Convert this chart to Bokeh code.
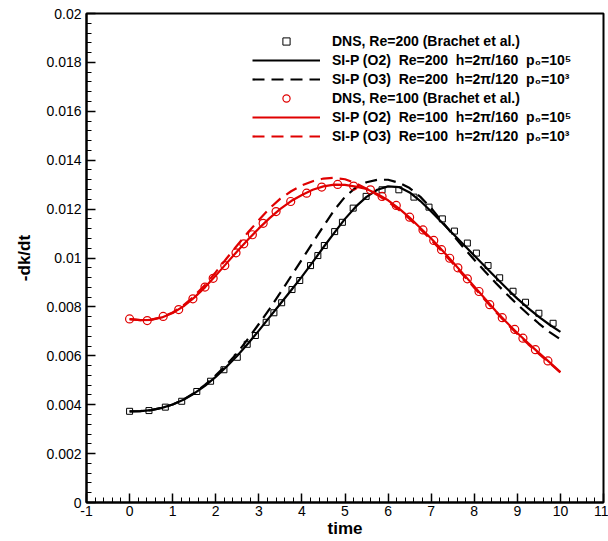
from bokeh.plotting import figure
from bokeh.models import FixedTicker, CustomJSTickFormatter, Legend, LegendItem, Range1d
from bokeh.embed import file_html
from bokeh.resources import INLINE

# ---- data ----
time_grid = [0.0, 0.25, 0.5, 0.75, 1.0, 1.25, 1.5, 1.75, 2.0, 2.25, 2.5, 2.75, 3.0, 3.25,
             3.5, 3.75, 4.0, 4.25, 4.5, 4.75, 5.0, 5.25, 5.5, 5.75, 6.0, 6.25, 6.5, 6.75,
             7.0, 7.25, 7.5, 7.75, 8.0, 8.25, 8.5, 8.75, 9.0, 9.25, 9.5, 9.75, 10.0]

sip_o2_re200 = [0.00373, 0.00374, 0.00378, 0.00387, 0.00401, 0.00420, 0.00446, 0.00477, 0.00514,
                0.00555, 0.00600, 0.00650, 0.00703, 0.00758, 0.00813, 0.00868, 0.00924, 0.00983,
                0.01044, 0.01103, 0.01160, 0.01210, 0.01250, 0.01279, 0.01293, 0.01290, 0.01268,
                0.01233, 0.01190, 0.01145, 0.01100, 0.01055, 0.01010, 0.00965, 0.00920, 0.00876,
                0.00834, 0.00795, 0.00759, 0.00727, 0.00698]
sip_o3_re200 = [0.00373, 0.00374, 0.00378, 0.00387, 0.00401, 0.00421, 0.00448, 0.00481, 0.00520,
                0.00563, 0.00612, 0.00670, 0.00730, 0.00792, 0.00858, 0.00926, 0.00994, 0.01062,
                0.01130, 0.01196, 0.01250, 0.01288, 0.01310, 0.01320, 0.01320, 0.01308, 0.01286,
                0.01250, 0.01204, 0.01150, 0.01096, 0.01043, 0.00993, 0.00945, 0.00898, 0.00853,
                0.00810, 0.00770, 0.00732, 0.00697, 0.00667]
sip_o2_re100 = [0.00750, 0.00746, 0.00747, 0.00757, 0.00775, 0.00802, 0.00838, 0.00880, 0.00928,
                0.00978, 0.01028, 0.01076, 0.01121, 0.01163, 0.01201, 0.01233, 0.01258, 0.01279,
                0.01293, 0.01300, 0.01299, 0.01292, 0.01282, 0.01262, 0.01236, 0.01203, 0.01165,
                0.01123, 0.01080, 0.01033, 0.00984, 0.00934, 0.00884, 0.00833, 0.00783, 0.00737,
                0.00693, 0.00652, 0.00612, 0.00573, 0.00533]
sip_o3_re100 = [0.00750, 0.00746, 0.00748, 0.00758, 0.00777, 0.00806, 0.00844, 0.00890, 0.00942,
                0.00998, 0.01052, 0.01105, 0.01155, 0.01203, 0.01243, 0.01273, 0.01297, 0.01314,
                0.01325, 0.01328, 0.01322, 0.01306, 0.01283, 0.01258, 0.01230, 0.01197, 0.01160,
                0.01118, 0.01074, 0.01027, 0.00978, 0.00928, 0.00878, 0.00828, 0.00779, 0.00733,
                0.00689, 0.00648, 0.00608, 0.00570, 0.00532]

dns200_t = [0.0, 0.45, 0.83, 1.21, 1.56, 1.88, 2.19, 2.50, 2.73, 2.92, 3.17, 3.35, 3.53, 3.77,
            3.95, 4.20, 4.37, 4.52, 4.76, 4.94, 5.19, 5.49, 5.86, 6.25, 6.60, 6.95, 7.26, 7.54,
            7.84, 8.05, 8.32, 8.59, 8.90, 9.19, 9.50, 9.83]
dns200_v = [0.00373, 0.00376, 0.00390, 0.00414, 0.00454, 0.00496, 0.00543, 0.00594, 0.00647,
            0.00683, 0.00737, 0.00776, 0.00817, 0.00871, 0.00908, 0.00969, 0.01010, 0.01051,
            0.01108, 0.01146, 0.01204, 0.01252, 0.01279, 0.01279, 0.01249, 0.01208, 0.01160,
            0.01110, 0.01061, 0.01020, 0.00969, 0.00919, 0.00864, 0.00819, 0.00774, 0.00733]

dns100_t = [0.0, 0.41, 0.78, 1.14, 1.47, 1.75, 1.94, 2.21, 2.47, 2.65, 2.85, 3.10, 3.40, 3.74,
            4.11, 4.46, 4.83, 5.20, 5.59, 5.86, 6.19, 6.50, 6.81, 7.06, 7.24, 7.43, 7.62, 7.84,
            8.11, 8.36, 8.65, 8.94, 9.13, 9.42, 9.71]
dns100_v = [0.00751, 0.00744, 0.00761, 0.00789, 0.00833, 0.00881, 0.00917, 0.00969, 0.01021,
            0.01058, 0.01095, 0.01142, 0.01190, 0.01231, 0.01265, 0.01290, 0.01301, 0.01294,
            0.01279, 0.01252, 0.01215, 0.01167, 0.01115, 0.01072, 0.01034, 0.00999, 0.00960,
            0.00915, 0.00863, 0.00809, 0.00756, 0.00708, 0.00672, 0.00625, 0.00579]

x_ticks = [-1, 0, 1, 2, 3, 4, 5, 6, 7, 8, 9, 10, 11]
y_ticks = [0.0, 0.002, 0.004, 0.006, 0.008, 0.010, 0.012, 0.014, 0.016, 0.018, 0.020]

labels = [
    "DNS, Re=200 (Brachet et al.)",
    "SI-P (O2)  Re=200  h=2\u03c0/160  p\u2080=10\u2075",
    "SI-P (O3)  Re=200  h=2\u03c0/120  p\u2080=10\u00b3",
    "DNS, Re=100 (Brachet et al.)",
    "SI-P (O2)  Re=100  h=2\u03c0/160  p\u2080=10\u2075",
    "SI-P (O3)  Re=100  h=2\u03c0/120  p\u2080=10\u00b3",
]

RED = "#e00000"
FONT = "Liberation Sans"

p = figure(width=608, height=541, output_backend="svg", toolbar_location=None,
           x_range=Range1d(-1, 11), y_range=Range1d(0, 0.02),
           min_border_left=86, min_border_right=5, min_border_top=13, min_border_bottom=39)
p.grid.visible = False
p.outline_line_color = "black"
p.outline_line_width = 2

r_o2_200 = p.line(time_grid, sip_o2_re200, line_color="black", line_width=2.2)
r_o3_200 = p.line(time_grid, sip_o3_re200, line_color="black", line_width=2.2, line_dash="12 7")
r_o2_100 = p.line(time_grid, sip_o2_re100, line_color=RED, line_width=2.2)
r_o3_100 = p.line(time_grid, sip_o3_re100, line_color=RED, line_width=2.2, line_dash="12 7")
r_dns200 = p.scatter(dns200_t, dns200_v, marker="square", size=6, fill_alpha=0,
                     line_color="black", line_width=1)
r_dns100 = p.scatter(dns100_t, dns100_v, marker="circle", size=8, fill_alpha=0,
                     line_color=RED, line_width=1.2)

# axes
for ax in (p.xaxis[0], p.yaxis[0]):
    ax.axis_line_width = 2
    ax.major_tick_in = 9
    ax.major_tick_out = 0
    ax.minor_tick_in = 5
    ax.minor_tick_out = 0
    ax.major_tick_line_width = 1.5
    ax.minor_tick_line_width = 1
    ax.major_label_text_font = FONT
    ax.major_label_text_font_size = "14px"
    ax.major_label_text_color = "black"
    ax.axis_label_text_font = FONT
    ax.axis_label_text_font_style = "bold"
    ax.axis_label_text_font_size = "17px"
    ax.axis_label_text_color = "black"

p.xaxis[0].ticker = FixedTicker(ticks=x_ticks,
                                minor_ticks=[i / 5 for i in range(-5, 56)])
p.yaxis[0].ticker = FixedTicker(ticks=y_ticks,
                                minor_ticks=[i * 0.0004 for i in range(0, 51)])
p.xaxis[0].formatter = CustomJSTickFormatter(code="return tick.toString();")
p.yaxis[0].formatter = CustomJSTickFormatter(code="return parseFloat(tick.toFixed(4)).toString();")
p.xaxis[0].axis_label = "time"
p.yaxis[0].axis_label = "-dk/dt"
p.xaxis[0].major_label_standoff = 3
p.xaxis[0].axis_label_standoff = 0
p.yaxis[0].major_label_standoff = 5
p.yaxis[0].axis_label_standoff = 9

items = [
    LegendItem(label=labels[0], renderers=[r_dns200]),
    LegendItem(label=labels[1], renderers=[r_o2_200]),
    LegendItem(label=labels[2], renderers=[r_o3_200]),
    LegendItem(label=labels[3], renderers=[r_dns100]),
    LegendItem(label=labels[4], renderers=[r_o2_100]),
    LegendItem(label=labels[5], renderers=[r_o3_100]),
]
legend = Legend(items=items, location=(166, 357), padding=0, margin=0,
                glyph_width=68, glyph_height=18, label_height=18, spacing=1,
                label_standoff=12, background_fill_alpha=0, border_line_alpha=0,
                label_text_font=FONT, label_text_font_style="bold",
                label_text_font_size="14px", label_text_color="black")
p.add_layout(legend)

open("out.html", "w").write(file_html(p, INLINE))
